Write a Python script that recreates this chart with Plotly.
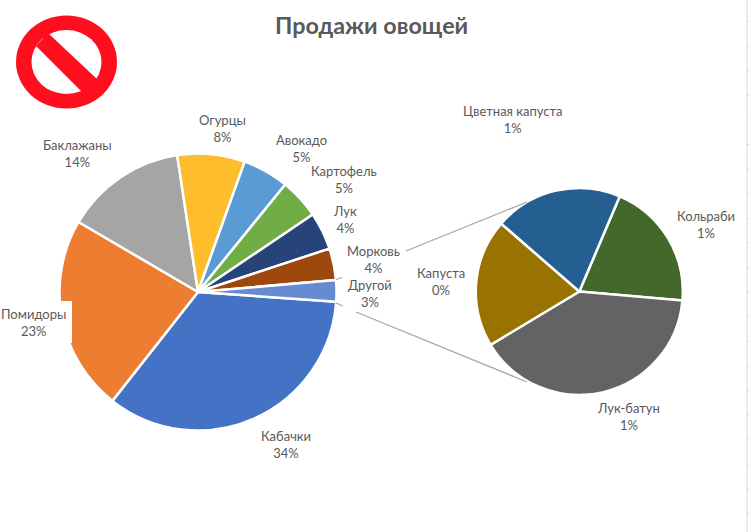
import plotly.graph_objects as go

W, H = 750, 532

# ---- data ----
main_labels = ["Кабачки", "Помидоры", "Баклажаны", "Огурцы", "Авокадо", "Картофель", "Лук", "Морковь", "Другой"]
main_values = [34.6, 22.9, 14.2, 7.9, 5.4, 4.7, 4.4, 3.7, 2.5]
main_percent_text = ["34%", "23%", "14%", "8%", "5%", "5%", "4%", "4%", "3%"]
main_colors = ["#4472C4", "#ED7D31", "#A5A5A5", "#FDBD2D", "#5B9BD5", "#70AD47", "#264478", "#9E480E", "#668BD0"]

sub_labels = ["Кольраби", "Лук-батун", "Капуста", "Цветная капуста"]
sub_values = [0.6, 1.2, 0.6, 0.6]
sub_percent_text = ["1%", "1%", "0%", "1%"]
sub_colors = ["#43682B", "#636363", "#997300", "#255E91"]

# label centres in window pixels
main_label_xy = [(286, 444), (33, 322), (77, 153), (222, 129), (301, 148), (344, 179), (345, 220), (373, 259), (370, 293)]
sub_label_xy = [(706, 224), (628, 416), (441, 281), (513, 119)]

TEXT = "#595959"
FONT = "Lato"


def px(x):
    return x / W


def py(y):
    return 1 - y / H


def domain(cx, cy, r):
    return dict(x=[px(cx - r), px(cx + r)], y=[py(cy + r), py(cy - r)])


fig = go.Figure()
fig.add_trace(go.Pie(
    labels=main_labels, values=main_values, sort=False, direction="clockwise", rotation=94,
    textinfo="none", domain=domain(198, 292, 138.5),
    marker=dict(colors=main_colors, line=dict(color="white", width=2.5)),
))
fig.add_trace(go.Pie(
    labels=sub_labels, values=sub_values, sort=False, direction="clockwise", rotation=23,
    textinfo="none", domain=domain(579.3, 291.5, 103.5),
    marker=dict(colors=sub_colors, line=dict(color="white", width=2.5)),
))

annotations = [dict(
    x=px(371), y=py(25), xref="paper", yref="paper", showarrow=False,
    xanchor="center", yanchor="middle",
    text="<b>Продажи овощей</b>", font=dict(family=FONT, size=23.3, color=TEXT),
)]
texts = [f"{n}<br>{t}" for n, t in zip(main_labels, main_percent_text)]
texts += [f"{n}<br>{t}" for n, t in zip(sub_labels, sub_percent_text)]
for name, (x, y), t in zip(main_labels + sub_labels, main_label_xy + sub_label_xy, texts):
    annotations.append(dict(
        x=px(x), y=py(y), xref="paper", yref="paper", showarrow=False, text=t,
        xanchor="center", yanchor="middle",
        bgcolor="white" if name == "Другой" else "rgba(0,0,0,0)",
        font=dict(family=FONT, size=13, color=TEXT),
    ))


def line(x0, y0, x1, y1, color="#A6A6A6", width=1.3):
    return dict(type="line", xref="paper", yref="paper", x0=px(x0), y0=py(y0), x1=px(x1), y1=py(y1),
                line=dict(color=color, width=width))


def ellipse(cx, cy, rx, ry, color):
    return dict(type="circle", xref="paper", yref="paper", x0=px(cx - rx), x1=px(cx + rx),
                y0=py(cy + ry), y1=py(cy - ry), fillcolor=color, line=dict(width=0), layer="above")


def poly(points, color):
    d = "M " + " L ".join(f"{px(x):.4f},{py(y):.4f}" for x, y in points) + " Z"
    return dict(type="path", xref="paper", yref="paper", path=d, fillcolor=color, line=dict(width=0), layer="above")


shapes = [
    # white patch behind the "Помидоры" label cuts into the slice, as in the original
    dict(type="rect", xref="paper", yref="paper", x0=0, x1=px(72), y0=py(343), y1=py(301),
         fillcolor="white", line=dict(width=0), layer="above"),
    line(406, 251, 527, 202),
    line(356, 312, 527, 382),
    line(336, 279.5, 342, 277.5),
    line(336, 303, 343, 306),
    # prohibition sign
    ellipse(66.5, 62, 50.5, 46.5, "#FF0F1E"),
    ellipse(66.5, 62, 35, 32, "white"),
    poly([(48, 33), (36, 46), (85, 95), (98, 80)], "#FF0F1E"),
    # strip of the spreadsheet grid at the right edge of the screenshot
    line(747, 0, 747, H, "#E4E4E4", 1.5),
]
for i in range(22):
    y = 21.5 + i * 24.6
    shapes.append(line(747, y, 750, y, "#E4E4E4", 1))

fig.update_layout(
    width=W, height=H, margin=dict(l=0, r=0, t=0, b=0), showlegend=False,
    paper_bgcolor="white", annotations=annotations, shapes=shapes,
)
fig.write_html("out.html", config=dict(displayModeBar=False), post_script="document.body.style.margin='0';")
